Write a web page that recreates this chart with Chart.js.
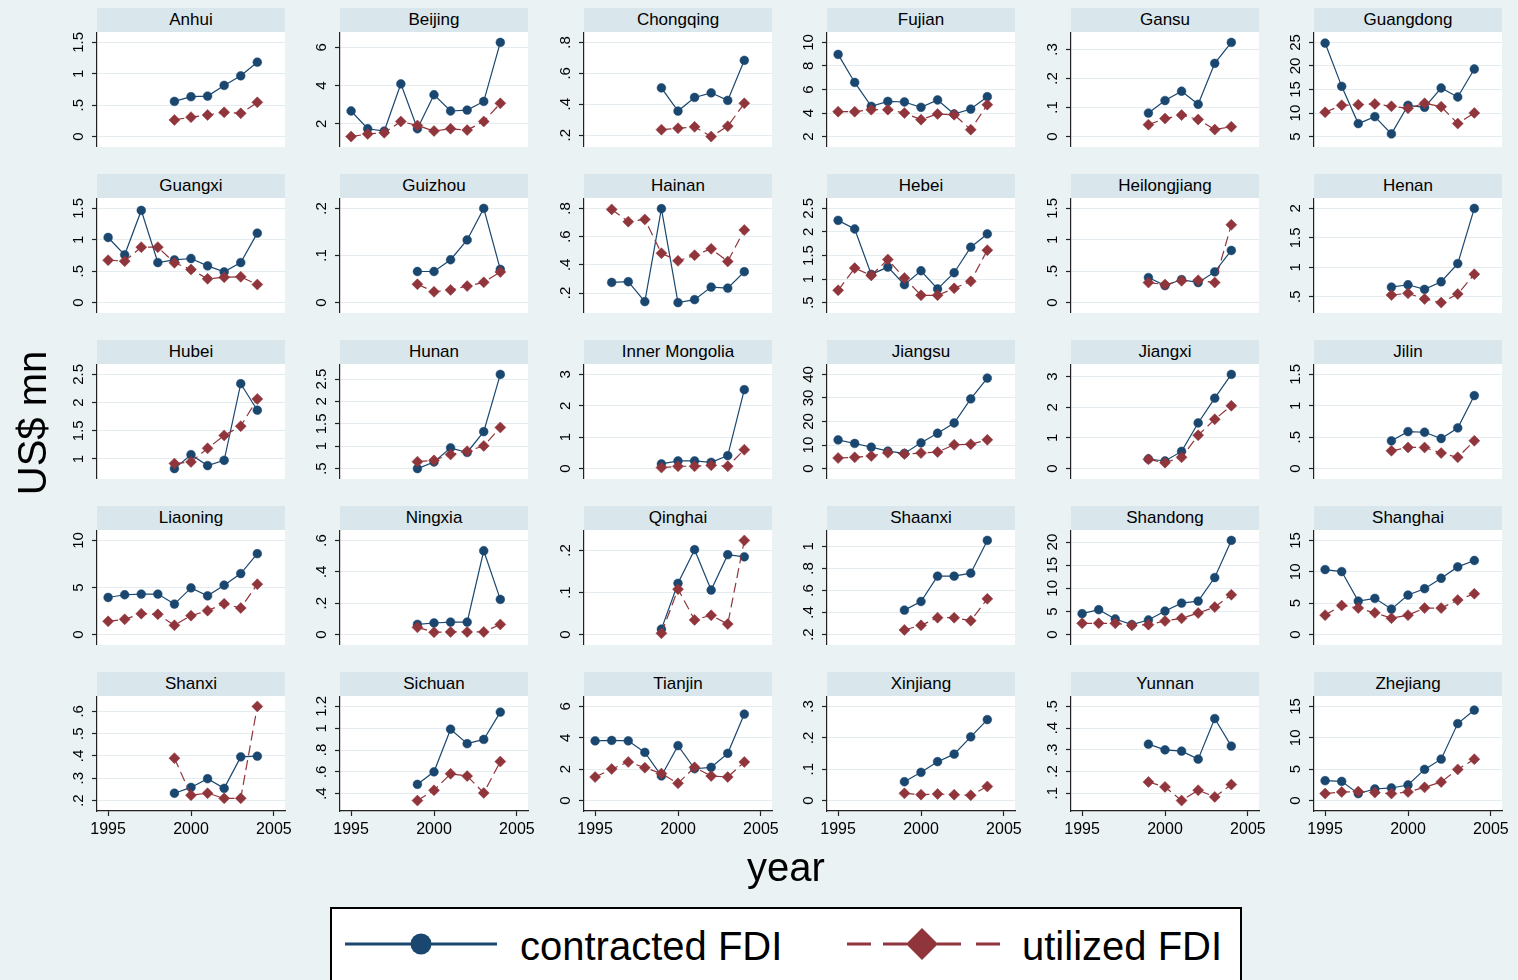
<!DOCTYPE html>
<html>
<head>
<meta charset="utf-8">
<script src="https://cdn.jsdelivr.net/npm/chart.js@4.4.1/dist/chart.umd.min.js"></script>
<style>
  html, body { margin:0; padding:0; }
  body { width:1518px; height:980px; overflow:hidden; background:#EAF2F3; position:relative;
         font-family:"Liberation Sans", Arial, Helvetica, sans-serif; }
  .strip { position:absolute; width:188px; height:24px; line-height:24px; background:#D9E6EB;
           text-align:center; font-size:17px; color:#000; white-space:nowrap; }
  .big { position:absolute; font-size:40px; line-height:50px; color:#000; white-space:nowrap; }
  #legend { position:absolute; left:330px; top:907px; width:908px; height:90px;
            border:2px solid #000; background:#fff; }
</style>
</head>
<body>
<div id="root"></div>
<script>
// ---------- DATA ----------
const years = [1995, 1996, 1997, 1998, 1999, 2000, 2001, 2002, 2003, 2004];
const xTickLabels = [1995, 2000, 2005];
const seriesNames = ["contracted FDI", "utilized FDI"];
const yAxisTitle = "US$ mn";
const xAxisTitle = "year";

const contractedAnhui = [null, null, null, null, 0.56, 0.635, 0.645, 0.815, 0.968, 1.185];
const utilizedAnhui   = [null, null, null, null, 0.265, 0.31, 0.344, 0.386, 0.37, 0.545];
const yTicksAnhui = [0, 0.5, 1, 1.5];

const contractedBeijing = [2.67, 1.74, 1.62, 4.09, 1.74, 3.52, 2.67, 2.72, 3.17, 6.26];
const utilizedBeijing   = [1.33, 1.47, 1.53, 2.12, 1.91, 1.62, 1.74, 1.67, 2.12, 3.07];
const yTicksBeijing = [2, 4, 6];

const contractedChongqing = [null, null, null, null, 0.506, 0.356, 0.444, 0.474, 0.425, 0.684];
const utilizedChongqing   = [null, null, null, null, 0.236, 0.245, 0.254, 0.191, 0.258, 0.406];
const yTicksChongqing = [0.2, 0.4, 0.6, 0.8];

const contractedFujian = [8.98, 6.6, 4.57, 4.99, 4.94, 4.49, 5.11, 3.92, 4.34, 5.39];
const utilizedFujian   = [4.12, 4.12, 4.29, 4.29, 4.0, 3.44, 3.92, 3.86, 2.59, 4.71];
const yTicksFujian = [2, 4, 6, 8, 10];

const contractedGansu = [null, null, null, null, 0.081, 0.124, 0.156, 0.111, 0.252, 0.324];
const utilizedGansu   = [null, null, null, null, 0.041, 0.062, 0.074, 0.059, 0.024, 0.034];
const yTicksGansu = [0, 0.1, 0.2, 0.3];

const contractedGuangdong = [24.86, 15.67, 7.76, 9.24, 5.57, 11.64, 11.22, 15.32, 13.41, 19.35];
const utilizedGuangdong   = [10.16, 11.64, 11.78, 11.93, 11.43, 11.0, 12.07, 11.36, 7.76, 10.02];
const yTicksGuangdong = [5, 10, 15, 20, 25];

const contractedGuangxi = [1.037, 0.761, 1.468, 0.638, 0.681, 0.702, 0.585, 0.489, 0.638, 1.106];
const utilizedGuangxi   = [0.676, 0.66, 0.883, 0.883, 0.633, 0.527, 0.378, 0.404, 0.41, 0.287];
const yTicksGuangxi = [0, 0.5, 1, 1.5];

const contractedGuizhou = [null, null, null, null, 0.066, 0.066, 0.091, 0.133, 0.2, 0.0705];
const utilizedGuizhou   = [null, null, null, null, 0.039, 0.023, 0.027, 0.035, 0.043, 0.065];
const yTicksGuizhou = [0, 0.1, 0.2];

const contractedHainan = [null, 0.275, 0.28, 0.139, 0.798, 0.132, 0.153, 0.242, 0.235, 0.351];
const utilizedHainan   = [null, 0.793, 0.706, 0.722, 0.482, 0.428, 0.468, 0.513, 0.424, 0.647];
const yTicksHainan = [0.2, 0.4, 0.6, 0.8];

const contractedHebei = [2.246, 2.063, 1.099, 1.254, 0.88, 1.176, 0.789, 1.134, 1.676, 1.958];
const utilizedHebei   = [0.761, 1.232, 1.077, 1.415, 1.021, 0.655, 0.655, 0.803, 0.951, 1.613];
const yTicksHebei = [0.5, 1, 1.5, 2, 2.5];

const contractedHeilongjiang = [null, null, null, null, 0.399, 0.271, 0.367, 0.319, 0.489, 0.83];
const utilizedHeilongjiang   = [null, null, null, null, 0.319, 0.287, 0.346, 0.356, 0.319, 1.239];
const yTicksHeilongjiang = [0, 0.5, 1, 1.5];

const contractedHenan = [null, null, null, null, 0.663, 0.702, 0.624, 0.753, 1.062, 2.0];
const utilizedHenan   = [null, null, null, null, 0.528, 0.556, 0.461, 0.399, 0.545, 0.882];
const yTicksHenan = [0.5, 1, 1.5, 2];

const contractedHubei = [null, null, null, null, 0.829, 1.076, 0.882, 0.976, 2.335, 1.865];
const utilizedHubei   = [null, null, null, null, 0.918, 0.947, 1.188, 1.418, 1.582, 2.065];
const yTicksHubei = [1, 1.5, 2, 2.5];

const contractedHunan = [null, null, null, null, 0.5, 0.647, 0.963, 0.86, 1.324, 2.603];
const utilizedHunan   = [null, null, null, null, 0.654, 0.684, 0.816, 0.89, 1.007, 1.419];
const yTicksHunan = [0.5, 1, 1.5, 2, 2.5];

const contractedInnerMongolia = [null, null, null, null, 0.148, 0.243, 0.243, 0.2, 0.412, 2.513];
const utilizedInnerMongolia   = [null, null, null, null, 0.032, 0.074, 0.074, 0.106, 0.074, 0.602];
const yTicksInnerMongolia = [0, 1, 2, 3];

const contractedJiangsu = [12.2, 10.67, 9.12, 7.44, 6.46, 10.95, 15.0, 19.37, 29.6, 38.46];
const utilizedJiangsu   = [4.49, 4.77, 5.33, 6.74, 6.18, 6.6, 7.02, 10.1, 10.39, 12.2];
const yTicksJiangsu = [0, 10, 20, 30, 40];

const contractedJiangxi = [null, null, null, null, 0.313, 0.248, 0.561, 1.489, 2.298, 3.074];
const utilizedJiangxi   = [null, null, null, null, 0.302, 0.194, 0.367, 1.09, 1.607, 2.05];
const yTicksJiangxi = [0, 1, 2, 3];

const contractedJilin = [null, null, null, null, 0.442, 0.589, 0.579, 0.479, 0.647, 1.163];
const utilizedJilin   = [null, null, null, null, 0.284, 0.337, 0.337, 0.247, 0.179, 0.442];
const yTicksJilin = [0, 0.5, 1, 1.5];

const contractedLiaoning = [3.94, 4.23, 4.3, 4.3, 3.24, 4.96, 4.12, 5.25, 6.48, 8.59];
const utilizedLiaoning   = [1.41, 1.62, 2.22, 2.15, 0.99, 2.01, 2.54, 3.27, 2.82, 5.35];
const yTicksLiaoning = [0, 5, 10];

const contractedNingxia = [null, null, null, null, 0.065, 0.074, 0.08, 0.08, 0.534, 0.224];
const utilizedNingxia   = [null, null, null, null, 0.046, 0.015, 0.017, 0.017, 0.017, 0.065];
const yTicksNingxia = [0, 0.2, 0.4, 0.6];

const contractedQinghai = [null, null, null, null, 0.013, 0.122, 0.202, 0.106, 0.19, 0.185];
const utilizedQinghai   = [null, null, null, null, 0.003, 0.108, 0.035, 0.046, 0.025, 0.224];
const yTicksQinghai = [0, 0.1, 0.2];

const contractedShaanxi = [null, null, null, null, 0.422, 0.5, 0.73, 0.73, 0.757, 1.054];
const utilizedShaanxi   = [null, null, null, null, 0.242, 0.284, 0.353, 0.353, 0.326, 0.524];
const yTicksShaanxi = [0.2, 0.4, 0.6, 0.8, 1];

const contractedShandong = [4.52, 5.38, 3.37, 2.15, 3.15, 5.09, 6.81, 7.24, 12.33, 20.36];
const utilizedShandong   = [2.44, 2.44, 2.44, 2.0, 2.15, 2.94, 3.51, 4.66, 5.95, 8.6];
const yTicksShandong = [0, 5, 10, 15, 20];

const contractedShanghai = [10.36, 10.04, 5.34, 5.77, 4.06, 6.3, 7.31, 8.97, 10.78, 11.8];
const utilizedShanghai   = [3.1, 4.64, 4.22, 3.47, 2.62, 3.1, 4.22, 4.22, 5.5, 6.51];
const yTicksShanghai = [0, 5, 10, 15];

const contractedShanxi = [null, null, null, null, 0.233, 0.259, 0.298, 0.255, 0.396, 0.399];
const utilizedShanxi   = [null, null, null, null, 0.39, 0.224, 0.233, 0.21, 0.21, 0.622];
const yTicksShanxi = [0.2, 0.3, 0.4, 0.5, 0.6];

const contractedSichuan = [null, null, null, null, 0.485, 0.6, 0.991, 0.858, 0.897, 1.148];
const utilizedSichuan   = [null, null, null, null, 0.336, 0.43, 0.582, 0.561, 0.406, 0.694];
const yTicksSichuan = [0.4, 0.6, 0.8, 1, 1.2];

const contractedTianjin = [3.81, 3.83, 3.81, 3.07, 1.57, 3.5, 2.03, 2.12, 3.01, 5.51];
const utilizedTianjin   = [1.5, 2.01, 2.46, 2.1, 1.72, 1.1, 2.12, 1.57, 1.5, 2.46];
const yTicksTianjin = [0, 2, 4, 6];

const contractedXinjiang = [null, null, null, null, 0.06, 0.09, 0.124, 0.148, 0.203, 0.258];
const utilizedXinjiang   = [null, null, null, null, 0.023, 0.019, 0.021, 0.019, 0.017, 0.045];
const yTicksXinjiang = [0, 0.1, 0.2, 0.3];

const contractedYunnan = [null, null, null, null, 0.326, 0.3, 0.294, 0.257, 0.444, 0.317];
const utilizedYunnan   = [null, null, null, null, 0.152, 0.129, 0.066, 0.114, 0.083, 0.14];
const yTicksYunnan = [0.1, 0.2, 0.3, 0.4, 0.5];

const contractedZhejiang = [3.17, 3.06, 1.11, 1.85, 2.01, 2.48, 4.97, 6.6, 12.26, 14.42];
const utilizedZhejiang   = [1.11, 1.37, 1.43, 1.27, 1.11, 1.37, 2.11, 2.96, 4.97, 6.6];
const yTicksZhejiang = [0, 5, 10, 15];

const panels = [
  ["Anhui", contractedAnhui, utilizedAnhui, yTicksAnhui],
  ["Beijing", contractedBeijing, utilizedBeijing, yTicksBeijing],
  ["Chongqing", contractedChongqing, utilizedChongqing, yTicksChongqing],
  ["Fujian", contractedFujian, utilizedFujian, yTicksFujian],
  ["Gansu", contractedGansu, utilizedGansu, yTicksGansu],
  ["Guangdong", contractedGuangdong, utilizedGuangdong, yTicksGuangdong],
  ["Guangxi", contractedGuangxi, utilizedGuangxi, yTicksGuangxi],
  ["Guizhou", contractedGuizhou, utilizedGuizhou, yTicksGuizhou],
  ["Hainan", contractedHainan, utilizedHainan, yTicksHainan],
  ["Hebei", contractedHebei, utilizedHebei, yTicksHebei],
  ["Heilongjiang", contractedHeilongjiang, utilizedHeilongjiang, yTicksHeilongjiang],
  ["Henan", contractedHenan, utilizedHenan, yTicksHenan],
  ["Hubei", contractedHubei, utilizedHubei, yTicksHubei],
  ["Hunan", contractedHunan, utilizedHunan, yTicksHunan],
  ["Inner Mongolia", contractedInnerMongolia, utilizedInnerMongolia, yTicksInnerMongolia],
  ["Jiangsu", contractedJiangsu, utilizedJiangsu, yTicksJiangsu],
  ["Jiangxi", contractedJiangxi, utilizedJiangxi, yTicksJiangxi],
  ["Jilin", contractedJilin, utilizedJilin, yTicksJilin],
  ["Liaoning", contractedLiaoning, utilizedLiaoning, yTicksLiaoning],
  ["Ningxia", contractedNingxia, utilizedNingxia, yTicksNingxia],
  ["Qinghai", contractedQinghai, utilizedQinghai, yTicksQinghai],
  ["Shaanxi", contractedShaanxi, utilizedShaanxi, yTicksShaanxi],
  ["Shandong", contractedShandong, utilizedShandong, yTicksShandong],
  ["Shanghai", contractedShanghai, utilizedShanghai, yTicksShanghai],
  ["Shanxi", contractedShanxi, utilizedShanxi, yTicksShanxi],
  ["Sichuan", contractedSichuan, utilizedSichuan, yTicksSichuan],
  ["Tianjin", contractedTianjin, utilizedTianjin, yTicksTianjin],
  ["Xinjiang", contractedXinjiang, utilizedXinjiang, yTicksXinjiang],
  ["Yunnan", contractedYunnan, utilizedYunnan, yTicksYunnan],
  ["Zhejiang", contractedZhejiang, utilizedZhejiang, yTicksZhejiang]
];

// ---------- LAYOUT / STYLE ----------
const NAVY = '#1A476F', MAROON = '#90353B', AX = '#222222', GRID = '#E4ECEF';
const FAMILY = '"Liberation Sans", Arial, Helvetica, sans-serif';
Chart.defaults.font.family = FAMILY;
const colL = [97, 340, 584, 827, 1071, 1314];
const rowT = [8, 174, 340, 506, 672];
const HEAD = 24, PH = 115, PW = 188, AXW = 60, PADR = 20, XAXH = 40;
const YFONT = 15;

const root = document.getElementById('root');
const fmt = v => { let s = String(v); if (s.startsWith('0.')) s = s.slice(1); return s; };
const mctx = document.createElement('canvas').getContext('2d');
mctx.font = YFONT + 'px ' + FAMILY;

const plotBg = {
  id: 'plotBg',
  beforeDraw(chart) {
    const a = chart.chartArea, ctx = chart.ctx;
    ctx.save(); ctx.fillStyle = '#ffffff';
    ctx.fillRect(a.left, a.top, a.right - a.left, a.bottom - a.top);
    ctx.restore();
  }
};
const zeroPad = s => { s.paddingLeft = 0; s.paddingRight = 0; s.paddingTop = 0; s.paddingBottom = 0; };

panels.forEach((p, i) => {
  const [name, cVals, uVals, yTicks] = p;
  const r = Math.floor(i / 6), c = i % 6, bottom = (r === 4);
  const L = colL[c], T = rowT[r];

  const strip = document.createElement('div');
  strip.className = 'strip';
  strip.style.left = L + 'px'; strip.style.top = T + 'px';
  strip.textContent = name;
  root.appendChild(strip);

  const W = AXW + PW + PADR, H = PH + (bottom ? XAXH : 0);
  const cv = document.createElement('canvas');
  cv.width = W; cv.height = H;
  cv.style.cssText = `position:absolute;left:${L - AXW}px;top:${T + HEAD}px;width:${W}px;height:${H}px;`;
  root.appendChild(cv);

  const vals = cVals.concat(uVals).filter(v => v !== null);
  const lo = Math.min(...vals, yTicks[0]);
  const hi = Math.max(...vals, yTicks[yTicks.length - 1]);
  const pad = (hi - lo) * 0.1105;
  const widest = Math.max(...yTicks.map(v => mctx.measureText(fmt(v)).width));
  const pts = arr => years.map((y, k) => ({ x: y, y: arr[k] })).filter(d => d.y !== null);

  new Chart(cv, {
    type: 'line',
    data: {
      datasets: [
        { label: seriesNames[0], data: pts(cVals), order: 1,
          borderColor: NAVY, backgroundColor: NAVY, borderWidth: 1.2, tension: 0,
          pointStyle: 'circle', pointRadius: 4.4, pointBorderWidth: 0.5,
          pointBorderColor: NAVY, pointBackgroundColor: NAVY, clip: 8 },
        { label: seriesNames[1], data: pts(uVals), order: 0,
          borderColor: MAROON, backgroundColor: MAROON, borderWidth: 1.2, tension: 0,
          borderDash: [10, 5],
          pointStyle: 'rectRot', pointRadius: 5.5, pointBorderWidth: 0.5,
          pointBorderColor: MAROON, pointBackgroundColor: MAROON, clip: 8 }
      ]
    },
    options: {
      responsive: false, maintainAspectRatio: false, animation: false, devicePixelRatio: 1, events: [],
      layout: { autoPadding: false, padding: { left: 0, top: 0, bottom: 0, right: PADR } },
      plugins: { legend: { display: false }, tooltip: { enabled: false }, title: { display: false } },
      scales: {
        x: {
          type: 'linear', min: 1994.33, max: 2005.67, display: bottom, position: 'bottom',
          afterBuildTicks: s => { s.ticks = xTickLabels.map(v => ({ value: v })); },
          afterFit: s => { s.height = bottom ? XAXH : 0; zeroPad(s); },
          grid: { drawOnChartArea: false, drawTicks: true, tickLength: 5, tickColor: AX, tickWidth: 1.2 },
          border: { display: true, color: AX, width: 1.2 },
          ticks: { autoSkip: false, maxRotation: 0, minRotation: 0, padding: 4, color: '#000',
                   font: { size: 16 }, callback: v => String(v) }
        },
        y: {
          type: 'linear', min: lo - pad, max: hi + pad, position: 'left',
          afterBuildTicks: s => { s.ticks = yTicks.map(v => ({ value: v })); },
          afterFit: s => { s.width = AXW; zeroPad(s); },
          grid: { color: GRID, lineWidth: 1, drawTicks: true, tickLength: 5, tickColor: AX, tickWidth: 1.2 },
          border: { display: true, color: AX, width: 1.2 },
          ticks: { autoSkip: false, minRotation: 90, maxRotation: 90, crossAlign: 'center',
                   padding: 13 - widest / 2, color: '#000', font: { size: YFONT },
                   callback: v => fmt(v) }
        }
      }
    },
    plugins: [plotBg]
  });
});

// axis titles
const yt = document.createElement('div');
yt.className = 'big';
yt.style.cssText += 'left:-68px;top:398px;width:200px;text-align:center;transform:rotate(-90deg);';
yt.textContent = yAxisTitle;
root.appendChild(yt);

const xt = document.createElement('div');
xt.className = 'big';
xt.style.cssText += 'left:686px;top:842px;width:200px;text-align:center;';
xt.textContent = xAxisTitle;
root.appendChild(xt);

// legend
const lg = document.createElement('div');
lg.id = 'legend';
lg.innerHTML = `
<svg width="908" height="90" style="position:absolute;left:0;top:0">
  <line x1="13" y1="35" x2="165" y2="35" stroke="${NAVY}" stroke-width="3"/>
  <circle cx="89" cy="35" r="10.5" fill="${NAVY}"/>
  <g stroke="${MAROON}" stroke-width="3">
    <line x1="515" y1="35" x2="539" y2="35"/>
    <line x1="551" y1="35" x2="575" y2="35"/>
    <line x1="605" y1="35" x2="629" y2="35"/>
    <line x1="644" y1="35" x2="668" y2="35"/>
  </g>
  <polygon points="590,19 606,35 590,51 574,35" fill="${MAROON}"/>
</svg>
<div class="big" style="left:188px;top:12px;">${seriesNames[0]}</div>
<div class="big" style="left:690px;top:12px;">${seriesNames[1]}</div>`;
root.appendChild(lg);
</script>
</body>
</html>
